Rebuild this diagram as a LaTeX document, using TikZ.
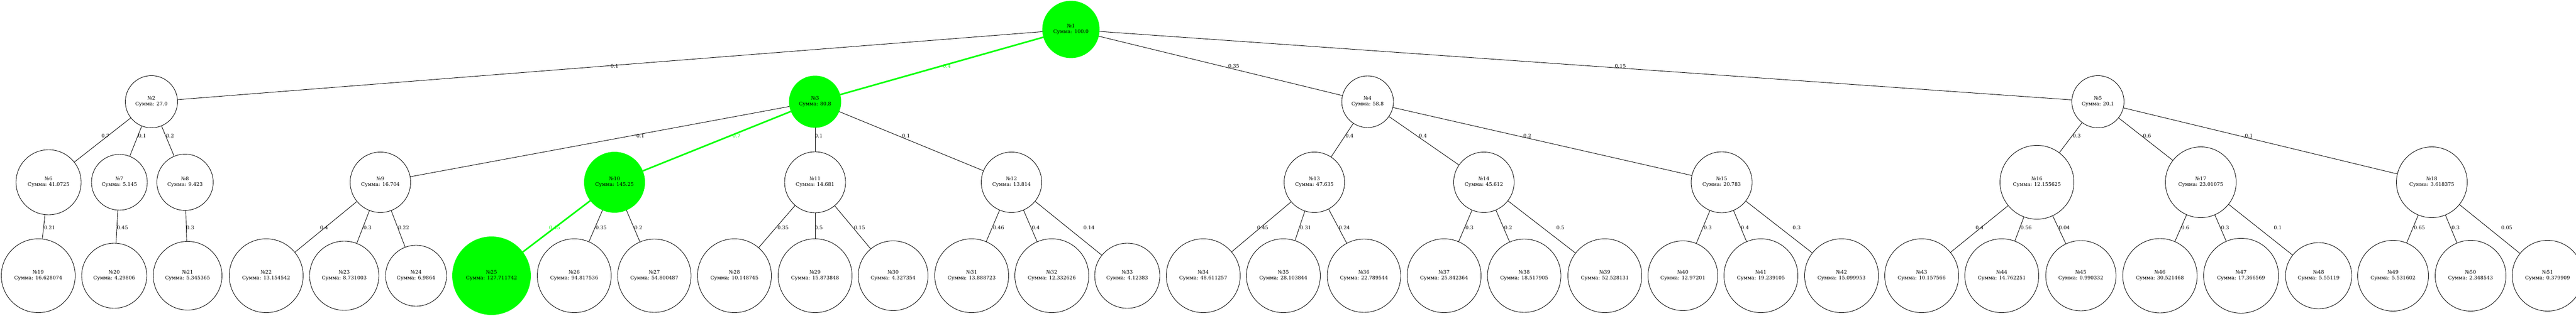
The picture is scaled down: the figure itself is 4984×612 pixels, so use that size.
\documentclass[tikz,border=0pt]{standalone}
\usepackage{fontspec}
\setmainfont{DejaVu Serif}
\tikzset{
    vertex/.style={circle,draw,line width=0.9pt,inner sep=0pt,minimum size=#1,align=center,font=\fontsize{9.6}{11}\selectfont},
    chosen/.style={fill=green,draw=green},
    link/.style={line width=0.9pt,black},
    best/.style={line width=3pt,green},
    weight/.style={inner sep=0pt,font=\fontsize{9.6}{11}\selectfont}
}

\begin{document}
\begin{tikzpicture}[x=1pt,y=-1pt]
    \useasboundingbox (0,0) rectangle (4984,612);

    \node[vertex=110,chosen] (v 1) at (2072,57) {№1\\Сумма: 100.0};

    \node[vertex=101] (v 2) at (293,197) {№2\\Сумма: 27.0};
    \node[vertex=100,chosen] (v 3) at (1577,197) {№3\\Сумма: 80.8};
    \node[vertex=100] (v 4) at (2646,197) {№4\\Сумма: 58.8};
    \node[vertex=101] (v 5) at (4059,197) {№5\\Сумма: 20.1};

    \node[vertex=126] (v 6) at (94,353) {№6\\Сумма: 41.0725};
    \node[vertex=108] (v 7) at (231,353) {№7\\Сумма: 5.145};
    \node[vertex=109] (v 8) at (358,353) {№8\\Сумма: 9.423};
    \node[vertex=117] (v 9) at (736,353) {№9\\Сумма: 16.704};
    \node[vertex=117,chosen] (v 10) at (1189,353) {№10\\Сумма: 145.25};
    \node[vertex=118] (v 11) at (1577,353) {№11\\Сумма: 14.681};
    \node[vertex=117] (v 12) at (1957,353) {№12\\Сумма: 13.814};
    \node[vertex=117] (v 13) at (2543,353) {№13\\Сумма: 47.635};
    \node[vertex=117] (v 14) at (2871,353) {№14\\Сумма: 45.612};
    \node[vertex=118] (v 15) at (3331,353) {№15\\Сумма: 20.783};
    \node[vertex=143] (v 16) at (3941,353) {№16\\Сумма: 12.155625};
    \node[vertex=137] (v 17) at (4258,353) {№17\\Сумма: 23.01075};
    \node[vertex=137] (v 18) at (4705,353) {№18\\Сумма: 3.618375};

    \node[vertex=143] (v 19) at (74,534) {№19\\Сумма: 16.628074};
    \node[vertex=126] (v 20) at (221,534) {№20\\Сумма: 4.29806};
    \node[vertex=133] (v 21) at (363,534) {№21\\Сумма: 5.345365};
    \node[vertex=143] (v 22) at (515,534) {№22\\Сумма: 13.154542};
    \node[vertex=134] (v 23) at (666,534) {№23\\Сумма: 8.731003};
    \node[vertex=118] (v 24) at (805,534) {№24\\Сумма: 6.9864};
    \node[vertex=151,chosen] (v 25) at (951,534) {№25\\Сумма: 127.711742};
    \node[vertex=143] (v 26) at (1111,534) {№26\\Сумма: 94.817536};
    \node[vertex=142] (v 27) at (1266,534) {№27\\Сумма: 54.800487};
    \node[vertex=143] (v 28) at (1421,534) {№28\\Сумма: 10.148745};
    \node[vertex=143] (v 29) at (1577,534) {№29\\Сумма: 15.873848};
    \node[vertex=135] (v 30) at (1728,534) {№30\\Сумма: 4.327354};
    \node[vertex=143] (v 31) at (1880,534) {№31\\Сумма: 13.888723};
    \node[vertex=143] (v 32) at (2035,534) {№32\\Сумма: 12.332626};
    \node[vertex=126] (v 33) at (2181,534) {№33\\Сумма: 4.12383};
    \node[vertex=143] (v 34) at (2328,534) {№34\\Сумма: 48.611257};
    \node[vertex=143] (v 35) at (2483,534) {№35\\Сумма: 28.103844};
    \node[vertex=142] (v 36) at (2639,534) {№36\\Сумма: 22.789544};
    \node[vertex=143] (v 37) at (2794,534) {№37\\Сумма: 25.842364};
    \node[vertex=142] (v 38) at (2949,534) {№38\\Сумма: 18.517905};
    \node[vertex=143] (v 39) at (3105,534) {№39\\Сумма: 52.528131};
    \node[vertex=135] (v 40) at (3256,534) {№40\\Сумма: 12.97201};
    \node[vertex=143] (v 41) at (3407,534) {№41\\Сумма: 19.239105};
    \node[vertex=143] (v 42) at (3563,534) {№42\\Сумма: 15.099953};
    \node[vertex=143] (v 43) at (3718,534) {№43\\Сумма: 10.157566};
    \node[vertex=143] (v 44) at (3873,534) {№44\\Сумма: 14.762251};
    \node[vertex=136] (v 45) at (4026,534) {№45\\Сумма: 0.990332};
    \node[vertex=144] (v 46) at (4179,534) {№46\\Сумма: 30.521468};
    \node[vertex=145] (v 47) at (4336,534) {№47\\Сумма: 17.366569};
    \node[vertex=128] (v 48) at (4486,534) {№48\\Сумма: 5.55119};
    \node[vertex=137] (v 49) at (4630,534) {№49\\Сумма: 5.531602};
    \node[vertex=137] (v 50) at (4780,534) {№50\\Сумма: 2.348543};
    \node[vertex=137] (v 51) at (4929,534) {№51\\Сумма: 0.379909};

    \draw[link] (v 1) -- (v 2) node[weight] at (1189,128) {0.1};
    \draw[best] (v 1) -- (v 3) node[weight] at (1832,128) {0.4};
    \draw[link] (v 1) -- (v 4) node[weight] at (2387,128) {0.35};
    \draw[link] (v 1) -- (v 5) node[weight] at (3135,128) {0.15};

    \draw[link] (v 2) -- (v 6) node[weight] at (204,263) {0.7};
    \draw[link] (v 2) -- (v 7) node[weight] at (275,263) {0.1};
    \draw[link] (v 2) -- (v 8) node[weight] at (329,263) {0.2};
    \draw[link] (v 3) -- (v 9) node[weight] at (1239,263) {0.1};
    \draw[best] (v 3) -- (v 10) node[weight] at (1425,263) {0.7};
    \draw[link] (v 3) -- (v 11) node[weight] at (1584,263) {0.1};
    \draw[link] (v 3) -- (v 12) node[weight] at (1753,263) {0.1};
    \draw[link] (v 4) -- (v 13) node[weight] at (2611,263) {0.4};
    \draw[link] (v 4) -- (v 14) node[weight] at (2753,263) {0.4};
    \draw[link] (v 4) -- (v 15) node[weight] at (2955,263) {0.2};
    \draw[link] (v 5) -- (v 16) node[weight] at (4018,263) {0.3};
    \draw[link] (v 5) -- (v 17) node[weight] at (4154,263) {0.6};
    \draw[link] (v 5) -- (v 18) node[weight] at (4351,263) {0.1};

    \draw[link] (v 6) -- (v 19) node[weight] at (96,441) {0.21};
    \draw[link] (v 7) -- (v 20) node[weight] at (237,441) {0.45};
    \draw[link] (v 8) -- (v 21) node[weight] at (368,441) {0.3};
    \draw[link] (v 9) -- (v 22) node[weight] at (627,441) {0.4};
    \draw[link] (v 9) -- (v 23) node[weight] at (711,441) {0.3};
    \draw[link] (v 9) -- (v 24) node[weight] at (781,441) {0.22};
    \draw[best] (v 10) -- (v 25) node[weight] at (1073,441) {0.45};
    \draw[link] (v 10) -- (v 26) node[weight] at (1163,441) {0.35};
    \draw[link] (v 10) -- (v 27) node[weight] at (1235,441) {0.2};
    \draw[link] (v 11) -- (v 28) node[weight] at (1515,441) {0.35};
    \draw[link] (v 11) -- (v 29) node[weight] at (1584,441) {0.5};
    \draw[link] (v 11) -- (v 30) node[weight] at (1663,441) {0.15};
    \draw[link] (v 12) -- (v 31) node[weight] at (1932,441) {0.46};
    \draw[link] (v 12) -- (v 32) node[weight] at (2004,441) {0.4};
    \draw[link] (v 12) -- (v 33) node[weight] at (2107,441) {0.14};
    \draw[link] (v 13) -- (v 34) node[weight] at (2443,441) {0.45};
    \draw[link] (v 13) -- (v 35) node[weight] at (2526,441) {0.31};
    \draw[link] (v 13) -- (v 36) node[weight] at (2601,441) {0.24};
    \draw[link] (v 14) -- (v 37) node[weight] at (2843,441) {0.3};
    \draw[link] (v 14) -- (v 38) node[weight] at (2918,441) {0.2};
    \draw[link] (v 14) -- (v 39) node[weight] at (3019,441) {0.5};
    \draw[link] (v 15) -- (v 40) node[weight] at (3304,441) {0.3};
    \draw[link] (v 15) -- (v 41) node[weight] at (3376,441) {0.4};
    \draw[link] (v 15) -- (v 42) node[weight] at (3476,441) {0.3};
    \draw[link] (v 16) -- (v 43) node[weight] at (3830,441) {0.4};
    \draw[link] (v 16) -- (v 44) node[weight] at (3920,441) {0.56};
    \draw[link] (v 16) -- (v 45) node[weight] at (3994,441) {0.04};
    \draw[link] (v 17) -- (v 46) node[weight] at (4228,441) {0.6};
    \draw[link] (v 17) -- (v 47) node[weight] at (4305,441) {0.3};
    \draw[link] (v 17) -- (v 48) node[weight] at (4407,441) {0.1};
    \draw[link] (v 18) -- (v 49) node[weight] at (4681,441) {0.65};
    \draw[link] (v 18) -- (v 50) node[weight] at (4751,441) {0.3};
    \draw[link] (v 18) -- (v 51) node[weight] at (4850,441) {0.05};

\end{tikzpicture}
\end{document}
